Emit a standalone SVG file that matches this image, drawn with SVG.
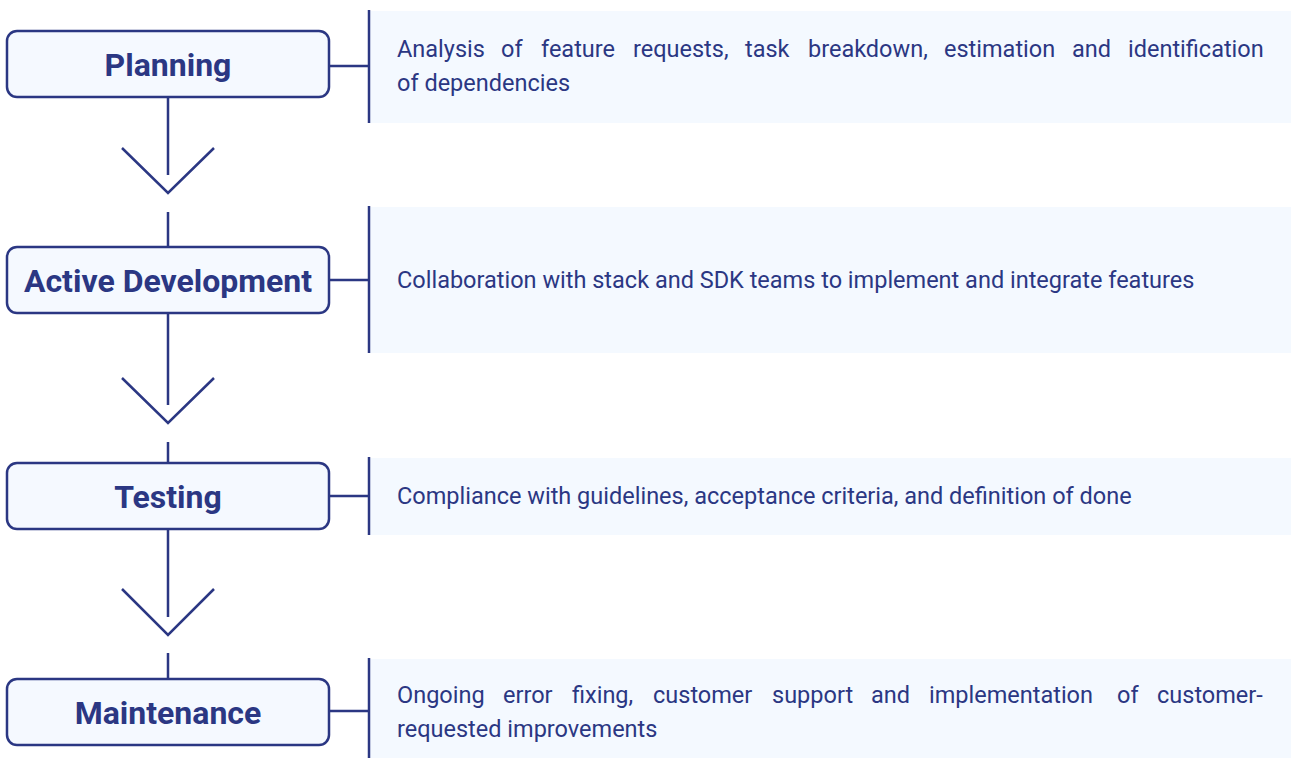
<svg xmlns="http://www.w3.org/2000/svg" width="1291" height="758" viewBox="0 0 1291 758">
<style>
.box{fill:#f5f9ff;stroke:#2b3783;stroke-width:2.5}
.panel{fill:#f4f9ff}
.ln{stroke:#2b3783;stroke-width:2.5;fill:none}
.title{font-family:Roboto,"Liberation Sans",sans-serif;font-weight:bold;font-size:32px;fill:#2b3783;text-anchor:middle}
.desc{font-family:Roboto,"Liberation Sans",sans-serif;font-size:23.5px;fill:#2b3783}
</style>
<rect width="1291" height="758" fill="#ffffff"/>
<g id="connectors">
<path class="ln" d="M168 97V175M122 148L168 193L214 148M168 212V247"/>
<path class="ln" d="M168 313V405M122 378L168 423L214 378M168 442V463"/>
<path class="ln" d="M168 529V617M122 589L168 635L214 589M168 653V679"/>
<path class="ln" d="M329 66H369M329 280H369M329 496H369M329 711H369"/>
</g>
<g id="planning">
<rect class="panel" x="369" y="11" width="922" height="112"/>
<path class="ln" d="M369 10V123"/>
<rect class="box" x="7" y="31" width="322" height="66" rx="10"/>
<text class="title" x="168" y="76">Planning</text>
<text class="desc" y="57"><tspan x="397">Analysis</tspan><tspan x="501">of</tspan><tspan x="541">feature</tspan><tspan x="633">requests,</tspan><tspan x="745">task</tspan><tspan x="808">breakdown,</tspan><tspan x="944">estimation</tspan><tspan x="1072">and</tspan><tspan x="1128">identification</tspan></text>
<text class="desc" x="397" y="91">of dependencies</text>
</g>
<g id="active-development">
<rect class="panel" x="369" y="207" width="922" height="146"/>
<path class="ln" d="M369 206V353"/>
<rect class="box" x="7" y="247" width="322" height="66" rx="10"/>
<text class="title" x="168" y="292">Active Development</text>
<text class="desc" x="397" y="288">Collaboration with stack and SDK teams to implement and integrate features</text>
</g>
<g id="testing">
<rect class="panel" x="369" y="458" width="922" height="77"/>
<path class="ln" d="M369 457V535"/>
<rect class="box" x="7" y="463" width="322" height="66" rx="10"/>
<text class="title" x="168" y="508">Testing</text>
<text class="desc" x="397" y="504">Compliance with guidelines, acceptance criteria, and definition of done</text>
</g>
<g id="maintenance">
<rect class="panel" x="369" y="659" width="922" height="99"/>
<path class="ln" d="M369 658V758"/>
<rect class="box" x="7" y="679" width="322" height="66" rx="10"/>
<text class="title" x="168" y="724">Maintenance</text>
<text class="desc" y="703"><tspan x="397">Ongoing</tspan><tspan x="503">error</tspan><tspan x="572">fixing,</tspan><tspan x="653">customer</tspan><tspan x="772">support</tspan><tspan x="871">and</tspan><tspan x="929">implementation</tspan><tspan x="1117">of</tspan><tspan x="1157">customer-</tspan></text>
<text class="desc" x="397" y="737">requested improvements</text>
</g>
</svg>
